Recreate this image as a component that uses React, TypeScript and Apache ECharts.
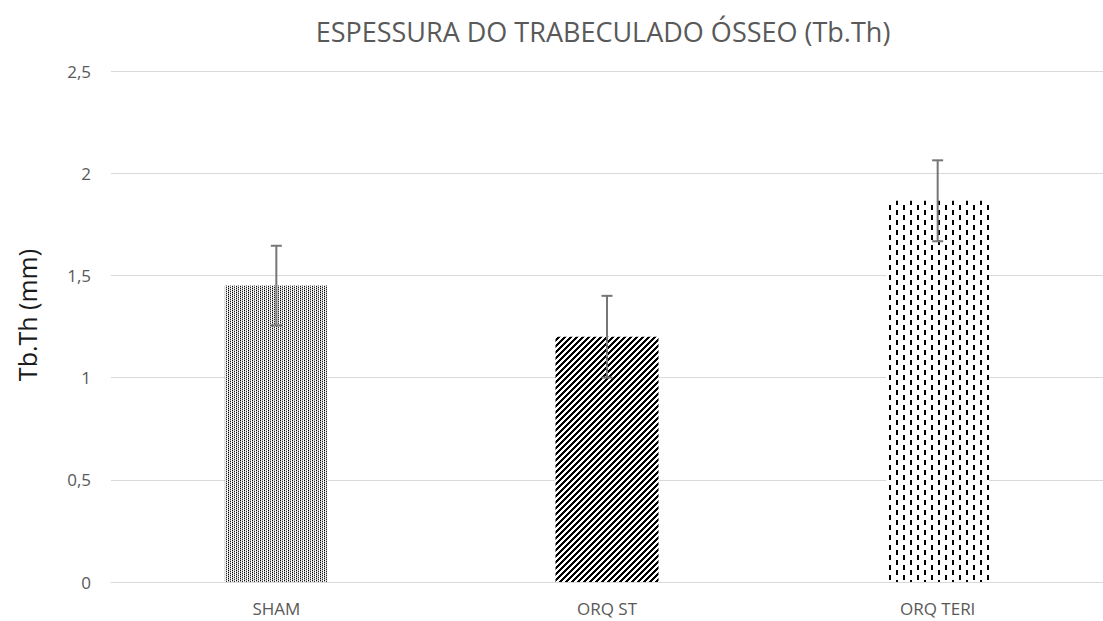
import React, { useEffect, useRef } from "react";
import * as echarts from "echarts";

const categories = ["SHAM", "ORQ ST", "ORQ TERI"];
const means = [1.45, 1.2, 1.865];
const errors = [0.195, 0.2, 0.198];
const yTicks = [0, 0.5, 1, 1.5, 2, 2.5];

function makeTile(w: number, h: number, fill: (x: number, y: number) => string | null) {
  const c = document.createElement("canvas");
  c.width = w;
  c.height = h;
  const ctx = c.getContext("2d")!;
  ctx.fillStyle = "#ffffff";
  ctx.fillRect(0, 0, w, h);
  for (let y = 0; y < h; y++) {
    for (let x = 0; x < w; x++) {
      const col = fill(x, y);
      if (col) {
        ctx.fillStyle = col;
        ctx.fillRect(x, y, 1, 1);
      }
    }
  }
  return c;
}

export default function App() {
  const ref = useRef<HTMLDivElement>(null);
  useEffect(() => {
    if (!ref.current) return;
    const chart = echarts.init(ref.current, undefined, { renderer: "svg" });

    const dotTile = makeTile(4, 2, (x, y) => {
      if (x === 0 && y === 0) return "#000000";
      if (x === 0 && y === 1) return "#aaaaaa";
      if (x === 2 && y === 0) return "#bbbbbb";
      if (x === 2 && y === 1) return "#222222";
      if (x === 1) return "#eeeeee";
      return null;
    });
    const diagTile = makeTile(6, 6, (x, y) => ((x + y) % 6 < 3 ? "#000000" : null));
    const dashTile = makeTile(14, 10, (x, y) => {
      if ((x === 0 || x === 1) && y < 5) return "#000000";
      if ((x === 7 || x === 8) && y >= 5) return "#000000";
      return null;
    });
    const patterns = [dotTile, diagTile, dashTile];

    const fontFamily = "'Open Sans', 'Liberation Sans', sans-serif";

    chart.setOption({
      animation: false,
      title: {
        text: "ESPESSURA DO TRABECULADO ÓSSEO (Tb.Th)",
        left: 598,
        top: 13,
        textAlign: "center",
        textStyle: { color: "#595959", fontSize: 27, fontWeight: "normal", fontFamily },
      },
      graphic: [
        {
          type: "text",
          x: 27,
          y: 315,
          rotation: Math.PI / 2,
          style: {
            text: "Tb.Th (mm)",
            fill: "#1a1a1a",
            fontSize: 25,
            fontFamily,
            align: "center",
            verticalAlign: "middle",
          },
        },
      ],
      grid: { left: 111, top: 71, width: 996, height: 511 },
      xAxis: {
        type: "category",
        data: categories,
        axisLine: { lineStyle: { color: "#d9d9d9", width: 1 } },
        axisTick: { show: false },
        axisLabel: { color: "#595959", fontSize: 17, margin: 18, fontFamily },
      },
      yAxis: {
        type: "value",
        min: 0,
        max: 2.5,
        interval: 0.5,
        axisLine: { show: false },
        axisTick: { show: false },
        splitLine: { lineStyle: { color: "#d9d9d9", width: 1 } },
        axisLabel: {
          color: "#595959",
          fontSize: 17,
          margin: 20,
          fontFamily,
          formatter: (v: number) => (yTicks.includes(v) ? String(v).replace(".", ",") : ""),
        },
      },
      series: [
        {
          type: "bar",
          barWidth: 103,
          data: means.map((v, i) => ({
            value: v,
            itemStyle: { color: { image: patterns[i], repeat: "repeat" } },
          })),
        },
        {
          type: "custom",
          z: 10,
          data: means.map((m, i) => [i, m - errors[i], m + errors[i]]),
          renderItem: (params: any, api: any) => {
            const idx = api.value(0);
            const lo = api.coord([idx, api.value(1)]);
            const hi = api.coord([idx, api.value(2)]);
            const x = hi[0];
            const hw = 5.5;
            const style = { stroke: "#767676", lineWidth: 2 };
            return {
              type: "group",
              children: [
                { type: "line", shape: { x1: x, y1: hi[1], x2: x, y2: lo[1] }, style },
                { type: "line", shape: { x1: x - hw, y1: hi[1], x2: x + hw, y2: hi[1] }, style },
                { type: "line", shape: { x1: x - hw, y1: lo[1], x2: x + hw, y2: lo[1] }, style },
              ],
            };
          },
        },
      ],
    });
    return () => chart.dispose();
  }, []);
  return (
    <div
      ref={ref}
      style={{ position: "absolute", left: 0, top: 0, width: 1103, height: 621, background: "#ffffff" }}
    />
  );
}
